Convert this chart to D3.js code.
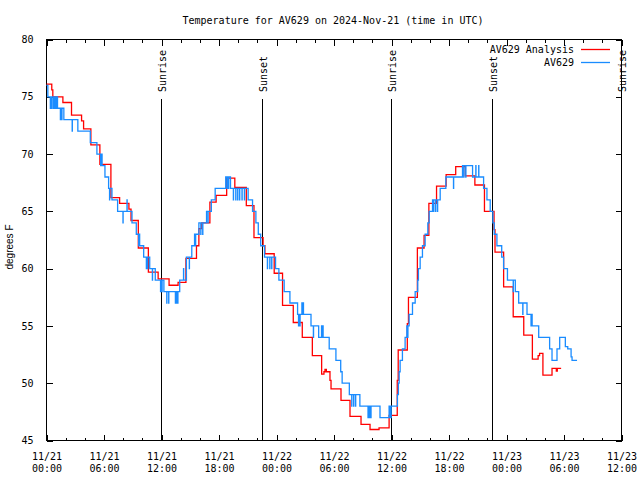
<!DOCTYPE html>
<html><head><meta charset="utf-8">
<script src="https://cdn.jsdelivr.net/npm/d3@7"></script>
<style>body{margin:0;background:#fff}svg{display:block}</style>
</head><body>
<svg id="c" width="640" height="480"></svg>
<script>
const chartTitle = "Temperature for AV629 on 2024-Nov-21 (time in UTC)";
const yAxisLabel = "degrees F";
const startTime = "2024-11-21T00:00:00Z";
const endTime = "2024-11-23T12:00:00Z";
const yTicks = [45, 50, 55, 60, 65, 70, 75, 80];
const xTickHours = [0, 6, 12, 18, 24, 30, 36, 42, 48, 54, 60];
const xMinorHours = d3.range(0, 61, 2);
const seriesNames = ["AV629 Analysis", "AV629"];
const seriesColors = ["#ff0000", "#1a8cff"];

// hours since start, temperature (F)
const analysisHours = [0.00,0.55,0.66,1.71,2.61,3.66,3.87,4.63,5.57,6.72,7.63,8.60,8.82,9.58,10.63,11.65,12.79,13.73,14.55,15.65,15.90,16.20,17.05,17.70,18.80,19.65,20.85,21.65,22.60,22.79,23.76,24.63,25.75,26.69,27.74,28.71,28.95,29.06,29.20,29.58,29.69,30.73,31.67,32.82,33.76,34.70,35.75,36.60,36.70,37.65,37.77,38.70,39.40,39.90,40.70,41.70,42.70,43.70,44.70,45.70,46.70,46.80,47.70,48.70,49.80,50.70,51.30,51.45,51.80,52.75,53.20,53.30,53.70];
const analysisTemps = [76.1,75.6,75.0,74.5,73.4,72.9,72.2,70.8,69.1,66.2,65.7,65.2,64.2,61.8,59.7,59.1,58.55,58.8,60.9,62.0,63.5,64.0,65.8,66.4,67.9,67.1,65.5,62.7,62.0,61.3,59.6,56.8,55.3,54.0,52.4,50.8,51.0,51.2,51.0,50.25,49.5,48.5,47.1,46.4,45.96,46.1,47.2,50.25,52.9,55.2,57.5,61.8,62.9,65.7,67.2,68.2,68.9,68.1,67.3,65.0,63.4,61.45,58.4,55.8,54.2,52.1,52.4,52.6,50.7,51.3,51.05,51.3,51.3];

const obsHours = [0.00,0.14,0.40,0.415,0.55,0.565,0.72,0.735,0.85,0.865,1.00,1.015,1.15,1.45,1.465,1.60,1.615,1.81,2.68,2.695,3.27,4.57,5.26,5.65,5.665,5.80,6.10,6.48,6.58,6.595,6.83,7.42,7.98,7.995,8.40,8.415,8.92,9.37,9.62,9.635,9.72,10.14,10.42,10.435,10.55,10.565,10.77,11.05,11.065,11.35,11.90,11.915,12.05,12.065,12.25,12.55,12.565,12.75,12.765,13.45,13.465,13.60,13.615,13.70,13.715,13.90,14.30,14.315,14.60,14.90,14.915,15.16,15.45,15.55,15.565,15.90,16.10,16.115,16.30,16.315,16.70,16.85,16.865,17.20,17.60,18.70,18.85,18.865,19.00,19.015,19.20,19.50,19.515,19.75,19.765,19.95,19.965,20.15,20.165,20.40,20.415,20.65,20.665,21.04,21.50,21.85,22.10,22.35,22.75,23.05,23.065,23.30,23.315,23.50,23.515,23.90,24.25,24.80,25.40,26.20,26.30,26.315,26.45,26.465,26.65,26.665,26.80,26.815,27.60,27.85,27.865,28.40,28.70,28.715,28.85,28.865,29.50,30.20,30.70,30.85,31.60,31.85,31.865,32.05,32.065,32.25,32.265,32.70,33.55,33.565,33.70,33.715,33.85,33.865,34.80,35.75,35.85,35.865,35.95,35.965,36.62,36.72,36.80,36.90,37.14,37.42,37.60,37.70,37.715,37.84,38.19,38.47,38.74,38.81,38.99,39.23,39.51,39.79,39.93,40.28,40.40,40.415,40.60,40.615,40.80,40.815,41.08,41.67,42.47,42.485,43.41,43.55,43.565,43.75,43.765,44.46,44.80,44.815,45.10,45.115,45.61,45.96,46.30,46.58,46.72,47.00,47.50,47.70,48.10,48.70,48.715,48.92,49.27,49.70,49.715,50.14,50.56,50.66,50.675,51.36,52.50,52.75,53.27,53.55,54.14,54.39,54.74,54.84,55.36];
const obsTemps = [76,75,74,75,74,75,74,75,74,75,74,75,74,73,74,73,74,73,72,73,72,71,70,69,70,69,68,67,66,67,66,65,64,65,66,65,64,63,62,63,62,61,60,61,60,61,60,59,60,59,58,59,58,59,58,57,58,57,58,57,58,57,58,57,58,59,60,59,61,60,61,62,63,62,63,64,63,64,63,64,65,64,65,66,67,68,67,68,67,68,67,66,67,66,67,66,67,66,67,66,67,66,67,66,65,64,63,62,61,60,61,60,61,60,61,60,59,58,57,56,55,56,55,56,57,56,57,56,55,54,55,54,55,54,55,54,53,52,51,50,49,48,49,48,49,48,49,48,47,48,47,48,47,48,47,48,47,48,47,48,49,50,51,52,53,54,55,54,55,56,57,58,59,60,61,62,63,64,65,66,65,66,65,66,65,66,67,68,67,68,69,68,69,68,69,68,69,68,69,68,67,66,65,64,63,62,61,60,59,58,59,58,57,56,57,56,55,56,55,54,53,52,53,54,53.2,53,52.3,52,52];

const sunEventHours = [11.95, 22.5, 36.0, 46.55, 60.0];
const sunEventLabels = ["Sunrise", "Sunset", "Sunrise", "Sunset", "Sunrise"];

const t0 = Date.parse(startTime);
const toDate = h => new Date(t0 + h * 3600e3);

const svg = d3.select("#c");
const L = 46.5, R = 621.5, T = 39.5, B = 440.5;
const x = d3.scaleUtc().domain([new Date(startTime), new Date(endTime)]).range([L, R]);
const y = d3.scaleLinear().domain([45, 80]).range([B, T]);
const mono = "'DejaVu Sans Mono', 'Liberation Mono', monospace";
const fs = "10px";

// title
svg.append("text").attr("x", 333).attr("y", 24).attr("text-anchor", "middle")
  .style("font-family", mono).style("font-size", fs).text(chartTitle);

// axes (ticks inward, mirrored)
function styleAxis(g) {
  g.select(".domain").remove();
  g.selectAll("line").attr("stroke", "#000").attr("shape-rendering", "crispEdges");
}
const majorDates = xTickHours.map(toDate);
const minorDates = xMinorHours.map(toDate);
svg.append("g").attr("transform", `translate(0,${B})`)
  .call(d3.axisBottom(x).tickValues(minorDates).tickSize(-3).tickFormat(""))
  .call(styleAxis);
svg.append("g").attr("transform", `translate(0,${T})`)
  .call(d3.axisTop(x).tickValues(minorDates).tickSize(-3).tickFormat(""))
  .call(styleAxis);
svg.append("g").attr("transform", `translate(0,${T})`)
  .call(d3.axisTop(x).tickValues(majorDates).tickSize(-6).tickFormat(""))
  .call(styleAxis);
const fmtD = d3.utcFormat("%m/%d"), fmtT = d3.utcFormat("%H:%M");
const xb = svg.append("g").attr("transform", `translate(0,${B})`)
  .call(d3.axisBottom(x).tickValues(majorDates).tickSize(-6).tickFormat(""))
  .call(styleAxis);
xb.selectAll(".tick").each(function(d) {
  const t = d3.select(this).append("text").attr("fill", "#000").attr("text-anchor", "middle")
    .style("font-family", mono).style("font-size", fs);
  t.append("tspan").attr("x", 0).attr("y", 19).text(fmtD(d));
  t.append("tspan").attr("x", 0).attr("y", 31.5).text(fmtT(d));
});
const yl = svg.append("g").attr("transform", `translate(${L},0)`)
  .call(d3.axisLeft(y).tickValues(yTicks).tickSize(-6).tickPadding(13).tickFormat(d3.format("d")))
  .call(styleAxis);
yl.selectAll("text").style("font-family", mono).style("font-size", fs).attr("fill", "#000");
svg.append("g").attr("transform", `translate(${R},0)`)
  .call(d3.axisRight(y).tickValues(yTicks).tickSize(-6).tickFormat(""))
  .call(styleAxis);

// border
svg.append("rect").attr("x", L).attr("y", T).attr("width", R - L).attr("height", B - T)
  .attr("fill", "none").attr("stroke", "#000").attr("shape-rendering", "crispEdges");

// y label
svg.append("text").attr("transform", "translate(13,247) rotate(-90)").attr("text-anchor", "middle")
  .style("font-family", "'Liberation Sans', Arial, sans-serif").style("font-size", "10px").text(yAxisLabel);

// sun events
sunEventHours.forEach((h, i) => {
  const xx = x(toDate(h));
  svg.append("line").attr("x1", xx).attr("x2", xx).attr("y1", 99).attr("y2", B)
    .attr("stroke", "#000").attr("shape-rendering", "crispEdges");
  svg.append("text").attr("transform", `translate(${xx + 4.5},92) rotate(-90)`)
    .style("font-family", mono).style("font-size", fs).text(sunEventLabels[i]);
});

// series
const line = d3.line().x(d => x(d[0])).y(d => y(d[1])).curve(d3.curveStepAfter);
const analysis = analysisHours.map((h, i) => [toDate(h), analysisTemps[i]]);
const obs = obsHours.map((h, i) => [toDate(h), obsTemps[i]]);
[analysis, obs].forEach((s, i) => {
  svg.append("path").datum(s).attr("d", line).attr("fill", "none")
    .attr("stroke", seriesColors[i]).attr("stroke-width", 1.3);
});

// legend
seriesNames.forEach((n, i) => {
  const yy = 49.5 + i * 13;
  svg.append("text").attr("x", 574).attr("y", yy + 3.7).attr("text-anchor", "end")
    .style("font-family", mono).style("font-size", fs).text(n);
  svg.append("line").attr("x1", 581).attr("x2", 610).attr("y1", yy).attr("y2", yy)
    .attr("stroke", seriesColors[i]).attr("stroke-width", 1.3);
});
</script>
</body></html>
